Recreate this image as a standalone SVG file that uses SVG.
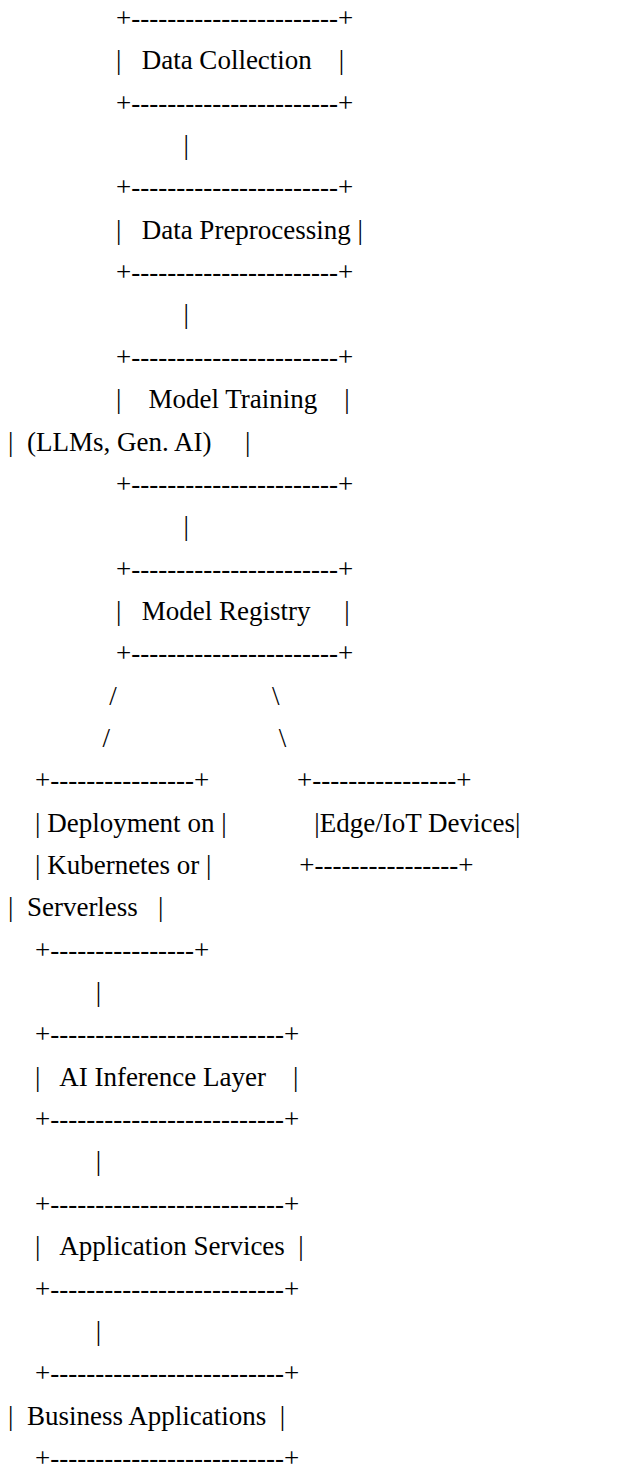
<svg xmlns="http://www.w3.org/2000/svg" width="619" height="1464" viewBox="0 0 619 1464">
<style>
text{font-family:"Liberation Serif","Times New Roman",serif;font-size:27px;fill:#000;white-space:pre}
</style>
<rect width="619" height="1464" fill="#fff"/>
<g id="connectors">
<text xml:space="preserve" x="183.5" y="154.05">|</text>
<text xml:space="preserve" x="183.5" y="323.45">|</text>
<text xml:space="preserve" x="183.5" y="535.2">|</text>
<text xml:space="preserve" x="109.25" y="704.6">/</text>
<text xml:space="preserve" x="272" y="704.6">\</text>
<text xml:space="preserve" x="102.5" y="746.95">/</text>
<text xml:space="preserve" x="278.75" y="746.95">\</text>
<text xml:space="preserve" x="95.75" y="1001.05">|</text>
<text xml:space="preserve" x="95.75" y="1170.45">|</text>
<text xml:space="preserve" x="95.75" y="1339.85">|</text>
</g>
<g id="data-collection">
<text xml:space="preserve" x="116" y="27">+-----------------------+</text>
<text xml:space="preserve" x="116" y="69.35">|   Data Collection    |</text>
<text xml:space="preserve" x="116" y="111.7">+-----------------------+</text>
</g>
<g id="data-preprocessing">
<text xml:space="preserve" x="116" y="196.4">+-----------------------+</text>
<text xml:space="preserve" x="116" y="238.75">|   Data Preprocessing |</text>
<text xml:space="preserve" x="116" y="281.1">+-----------------------+</text>
</g>
<g id="model-training">
<text xml:space="preserve" x="116" y="365.8">+-----------------------+</text>
<text xml:space="preserve" x="116" y="408.15">|    Model Training    |</text>
<text xml:space="preserve" x="8" y="450.5">|  (LLMs, Gen. AI)     |</text>
<text xml:space="preserve" x="116" y="492.85">+-----------------------+</text>
</g>
<g id="model-registry">
<text xml:space="preserve" x="116" y="577.55">+-----------------------+</text>
<text xml:space="preserve" x="116" y="619.9">|   Model Registry     |</text>
<text xml:space="preserve" x="116" y="662.25">+-----------------------+</text>
</g>
<g id="deployment">
<text xml:space="preserve" x="35" y="789.3">+----------------+</text>
<text xml:space="preserve" x="35" y="831.65">| Deployment on |</text>
<text xml:space="preserve" x="35" y="874">| Kubernetes or |</text>
<text xml:space="preserve" x="8" y="916.35">|  Serverless   |</text>
<text xml:space="preserve" x="35" y="958.7">+----------------+</text>
</g>
<g id="edge-iot">
<text xml:space="preserve" x="297.05" y="789.3">+----------------+</text>
<text xml:space="preserve" x="314.3" y="831.65">|Edge/IoT Devices|</text>
<text xml:space="preserve" x="299.25" y="874">+----------------+</text>
</g>
<g id="ai-inference">
<text xml:space="preserve" x="35" y="1043.4">+--------------------------+</text>
<text xml:space="preserve" x="35" y="1085.75">|   AI Inference Layer    |</text>
<text xml:space="preserve" x="35" y="1128.1">+--------------------------+</text>
</g>
<g id="application-services">
<text xml:space="preserve" x="35" y="1212.8">+--------------------------+</text>
<text xml:space="preserve" x="35" y="1255.15">|   Application Services  |</text>
<text xml:space="preserve" x="35" y="1297.5">+--------------------------+</text>
</g>
<g id="business-applications">
<text xml:space="preserve" x="35" y="1382.2">+--------------------------+</text>
<text xml:space="preserve" x="8" y="1424.55">|  Business Applications  |</text>
<text xml:space="preserve" x="35" y="1466.9">+--------------------------+</text>
</g>
</svg>
